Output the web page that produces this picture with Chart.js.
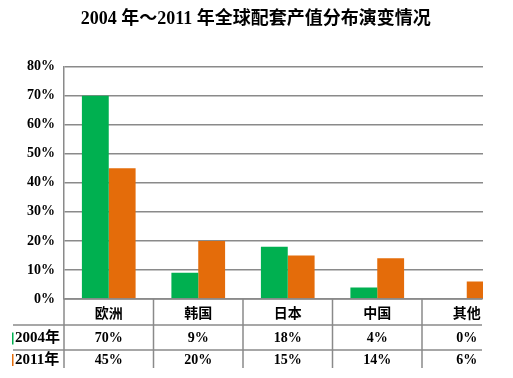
<!DOCTYPE html>
<html>
<head>
<meta charset="utf-8">
<script src="https://cdn.jsdelivr.net/npm/chart.js@4"></script>
<style>
html, body { margin: 0; padding: 0; background: #fff; overflow: hidden; }
</style>
</head>
<body>
<div style="width:513px;height:378px"><canvas id="chart" width="513" height="378"></canvas></div>
<script>
const regions = ['欧洲', '韩国', '日本', '中国', '其他'];
const years = ['2004年', '2011年'];
const share2004 = [70, 9, 18, 4, 0];
const share2011 = [45, 20, 15, 14, 6];
const colors = ['#00B050', '#E46C0A'];

const serif = "'Liberation Serif', 'Noto Sans CJK SC', serif";
const grid = '#8a8a8a';

// data table under the plot (the picture is cut off at x=482)
const tablePlugin = {
	id: 'dataTable',
	afterDraw(chart) {
		const ctx = chart.ctx;
		const x = chart.scales.x;
		const area = chart.chartArea;
		const cut = 482;
		const half = (x.getPixelForValue(1) - x.getPixelForValue(0)) / 2;
		const rows = [area.bottom, area.bottom + 26, area.bottom + 51, area.bottom + 69];

		ctx.save();
		ctx.fillStyle = '#fff';
		ctx.fillRect(cut + 1, 40, chart.width - cut, chart.height);

		ctx.strokeStyle = grid;
		ctx.lineWidth = 1.5;
		ctx.beginPath();
		ctx.moveTo(area.left, rows[0]); ctx.lineTo(cut, rows[0]);
		ctx.moveTo(13, rows[1]); ctx.lineTo(cut, rows[1]);
		ctx.moveTo(13, rows[2]); ctx.lineTo(cut, rows[2]);
		for (let i = 0; i < regions.length; i++) {
			let px = x.getPixelForValue(i) - half;
			ctx.moveTo(px, rows[0]); ctx.lineTo(px, rows[3]);
		}
		ctx.stroke();

		ctx.textAlign = 'center';
		ctx.textBaseline = 'middle';
		ctx.fillStyle = '#000';
		ctx.font = "bold 14px 'Noto Sans CJK SC', sans-serif";
		regions.forEach((r, i) => ctx.fillText(r, x.getPixelForValue(i), (rows[0] + rows[1]) / 2 + 1));

		ctx.font = 'bold 14px ' + serif;
		[share2004, share2011].forEach((list, j) => {
			list.forEach((v, i) => ctx.fillText(v + '%', x.getPixelForValue(i), (rows[j + 1] + rows[j + 2]) / 2 + 1));
		});

		ctx.textAlign = 'left';
		ctx.font = 'bold 15px ' + serif;
		years.forEach((y, j) => {
			let cy = (rows[j + 1] + rows[j + 2]) / 2 + 1;
			ctx.fillStyle = colors[j];
			ctx.fillRect(12, cy - 6, 1.5, 12);
			ctx.fillStyle = '#000';
			ctx.fillText(y, 15, cy);
		});
		ctx.restore();
	}
};

new Chart(document.getElementById('chart').getContext('2d'), {
	type: 'bar',
	data: {
		labels: regions,
		datasets: [
			{ label: years[0], data: share2004, backgroundColor: colors[0] },
			{ label: years[1], data: share2011, backgroundColor: colors[1] }
		]
	},
	options: {
		responsive: false,
		animation: false,
		devicePixelRatio: 1,
		datasets: { bar: { barPercentage: 1, categoryPercentage: 0.6 } },
		layout: { padding: { left: 0, right: 1.5, top: 0, bottom: 79 } },
		plugins: {
			legend: { display: false },
			tooltip: { enabled: false },
			title: {
				display: true,
				text: '2004 年～2011 年全球配套产值分布演变情况',
				color: '#000',
				font: { family: serif, size: 18, weight: 'bold' },
				padding: { top: 9, bottom: 36 }
			}
		},
		scales: {
			x: {
				display: false,
				grid: { display: false }
			},
			y: {
				min: 0,
				max: 80,
				afterFit: s => { s.width = 64; },
				ticks: {
					stepSize: 10,
					padding: 9,
					color: '#000',
					font: { family: serif, size: 14, weight: 'bold' },
					callback: v => v + '%'
				},
				grid: { color: grid, lineWidth: 1.5, drawTicks: false },
				border: { color: grid, width: 1.5 }
			}
		}
	},
	plugins: [tablePlugin]
});
</script>
</body>
</html>
